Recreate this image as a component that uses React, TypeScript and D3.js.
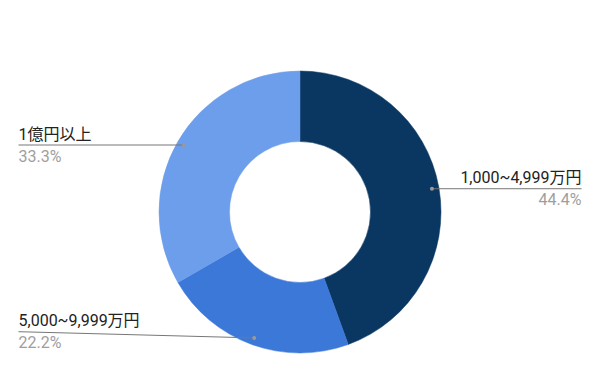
import React from "react";
import * as d3 from "d3";

const categories = ["1,000~4,999万円", "5,000~9,999万円", "1億円以上"];
const values = [44.4, 22.2, 33.3];
const colors = ["#0a3761", "#3c78d8", "#6d9eeb"];
const sides = ["right", "left", "left"];

const W = 600;
const H = 371;
const cx = 300;
const cy = 212;
const R = 141;
const r0 = 70.5;

export default function App() {
  const pie = d3.pie<number>().sort(null).value((d) => d)(values);
  const arc = d3.arc<d3.PieArcDatum<number>>().innerRadius(r0).outerRadius(R);
  const total = d3.sum(values);
  const fmt = d3.format(".1%");
  return (
    <svg
      width={W}
      height={H}
      style={{ position: "absolute", left: 0, top: 0, display: "block" }}
      fontFamily="Roboto, 'Noto Sans CJK JP', sans-serif"
    >
      <rect width={W} height={H} fill="#fff" />
      <g transform={`translate(${cx},${cy})`}>
        {pie.map((p, i) => (
          <path key={i} d={arc(p) || ""} fill={colors[i]} stroke={colors[i]} strokeWidth={0.5} />
        ))}
      </g>
      {pie.map((p, i) => {
        const mid = (p.startAngle + p.endAngle) / 2;
        const rr = 134;
        const dx = cx + rr * Math.sin(mid);
        const dy = cy - rr * Math.cos(mid);
        const ly = Math.min(dy, H - 39.3);
        const right = sides[i] === "right";
        const ex = right ? 581.5 : 18.5;
        return (
          <g key={i}>
            <line x1={dx} y1={dy} x2={ex} y2={ly} stroke="#777" strokeWidth={1} />
            <circle cx={dx} cy={dy} r={2} fill="#999" />
            <text
              x={ex}
              y={ly - 5.5}
              fontSize={16}
              fill="#222"
              textAnchor={right ? "end" : "start"}
            >
              {categories[i]}
            </text>
            <text
              x={ex}
              y={ly + 16.5}
              fontSize={16}
              fill="#9e9e9e"
              textAnchor={right ? "end" : "start"}
            >
              {fmt(values[i] / total)}
            </text>
          </g>
        );
      })}
    </svg>
  );
}
